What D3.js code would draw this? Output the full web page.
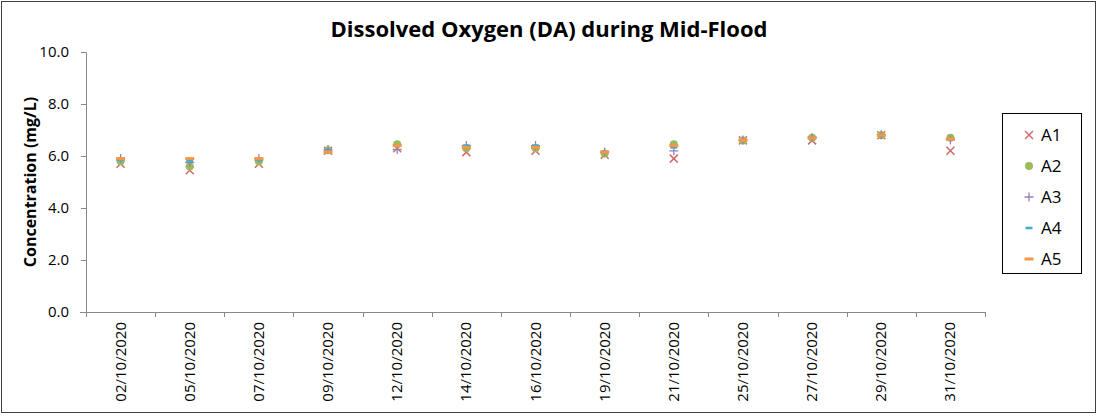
<!DOCTYPE html>
<html><head><meta charset="utf-8">
<script src="https://cdn.jsdelivr.net/npm/d3@7"></script>
<style>body{margin:0;background:#fff}svg{display:block}text{font-family:"Open Sans",Lato,sans-serif}</style>
</head><body>
<svg id="c" width="1097" height="416"></svg>
<script>
const dates = ["02/10/2020","05/10/2020","07/10/2020","09/10/2020","12/10/2020","14/10/2020","16/10/2020","19/10/2020","21/10/2020","25/10/2020","27/10/2020","29/10/2020","31/10/2020"];
const A1 = [5.7,5.45,5.7,6.2,6.3,6.15,6.2,6.05,5.9,6.6,6.6,6.8,6.2];
const A2 = [5.8,5.6,5.8,6.22,6.45,6.3,6.3,6.1,6.45,6.6,6.7,6.8,6.7];
const A3 = [5.9,5.75,5.9,6.25,6.25,6.4,6.4,6.15,6.2,6.62,6.7,6.82,6.62];
const A4 = [5.85,5.8,5.85,6.2,6.4,6.4,6.4,6.15,6.33,6.6,6.7,6.8,6.65];
const A5 = [5.9,5.9,5.9,6.15,6.4,6.33,6.33,6.15,6.4,6.6,6.7,6.8,6.65];
const yTicks = [0,2,4,6,8,10];
const seriesNames = ["A1","A2","A3","A4","A5"];
const seriesVals = [A1,A2,A3,A4,A5];
const colors = ["#d46a6a","#9bbb59","#9680b8","#4bacc6","#f79646"];
const FF = '"Open Sans", Lato, sans-serif';

const svg = d3.select("#c");
svg.append("rect").attr("x",1.5).attr("y",1.5).attr("width",1094).attr("height",411)
  .attr("fill","#fff").attr("stroke","#404040").attr("stroke-width",1);

const x = d3.scaleBand().domain(dates).range([86,985]);
const y = d3.scaleLinear().domain([0,10]).range([312,52]);

svg.append("text").attr("x",549).attr("y",37).attr("text-anchor","middle")
  .attr("font-size",22).attr("font-weight","bold").attr("fill","#000")
  .text("Dissolved Oxygen (DA) during Mid-Flood");

// y axis
const gy = svg.append("g").attr("transform","translate(86,0)")
  .call(d3.axisLeft(y).tickValues(yTicks).tickFormat(d3.format(".1f")).tickSize(5).tickPadding(12));
gy.select(".domain").attr("stroke","#888").attr("d","M-5,52.5H0.5V312.5");
gy.selectAll(".tick line").attr("stroke","#888");
gy.selectAll(".tick text").attr("font-size",15).attr("fill","#000").attr("font-family",FF);

// x axis
const gx = svg.append("g").attr("transform","translate(0,312)")
  .call(d3.axisBottom(x).tickSize(0).tickPadding(0));
gx.select(".domain").attr("stroke","#888").attr("d","M80,0.5H985");
gx.selectAll(".tick text").attr("font-size",15).attr("fill","#000")
  .attr("text-anchor","end").attr("font-family",FF)
  .attr("transform","translate(5,10) rotate(-90)").attr("dy","0");
const bounds = dates.map((d,i)=>x(d)).concat([985]);
gx.selectAll(".bound").data(bounds).enter().append("line")
  .attr("x1",d=>Math.round(d)+0.5).attr("x2",d=>Math.round(d)+0.5)
  .attr("y1",0).attr("y2",5).attr("stroke","#888");

svg.append("text").attr("transform","translate(36,182) rotate(-90)")
  .attr("text-anchor","middle").attr("font-size",16).attr("font-weight","bold")
  .text("Concentration (mg/L)");

function marker(g, i, cx, cy){
  const c = colors[i];
  if(i===0){
    g.append("path").attr("d",`M${cx-4},${cy-4}L${cx+4},${cy+4}M${cx-4},${cy+4}L${cx+4},${cy-4}`)
      .attr("stroke",c).attr("stroke-width",1.5).attr("fill","none");
  } else if(i===1){
    g.append("circle").attr("cx",cx).attr("cy",cy).attr("r",4).attr("fill",c);
  } else if(i===2){
    g.append("path").attr("d",`M${cx-4.5},${cy}L${cx+4.5},${cy}M${cx},${cy-4.5}L${cx},${cy+4.5}`)
      .attr("stroke",c).attr("stroke-width",1.3).attr("fill","none");
  } else if(i===3){
    g.append("rect").attr("x",cx-3.5).attr("y",cy-1.3).attr("width",7).attr("height",2.6).attr("fill",c);
  } else {
    g.append("rect").attr("x",cx-4.5).attr("y",cy-1.5).attr("width",9).attr("height",3).attr("fill",c);
  }
}

const pts = svg.append("g");
seriesVals.forEach((vals,i)=>{
  const g = pts.append("g");
  vals.forEach((v,j)=> marker(g,i,x(dates[j])+x.bandwidth()/2, y(v)));
});

// legend
const lg = svg.append("g");
lg.append("rect").attr("x",1002.5).attr("y",113.5).attr("width",79).attr("height",160)
  .attr("fill","#fff").attr("stroke","#000");
seriesNames.forEach((n,i)=>{
  const cy = 135 + i*31;
  marker(lg,i,1029,cy);
  lg.append("text").attr("x",1041).attr("y",cy+6).attr("font-size",17).text(n);
});
</script>
</body></html>
